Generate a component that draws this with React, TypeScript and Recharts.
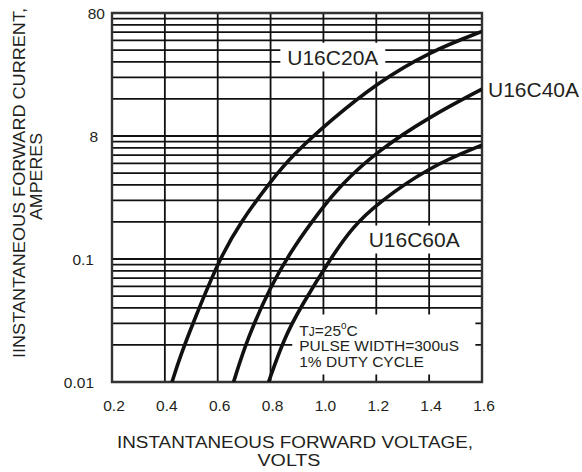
import React from 'react';
import { LineChart, Line, XAxis, YAxis, CartesianGrid, ReferenceArea, ReferenceDot, Label } from 'recharts';

const xTicks = [0.2, 0.4, 0.6, 0.8, 1.0, 1.2, 1.4, 1.6];
const xTickLabels = ['0.2', '0.4', '0.6', '0.8', '1.0', '1.2', '1.4', '1.6'];
const yTicks = [0.01, 0.1, 1, 10];
const yTickLabels = ['0.01', '0.1', '8', '80'];
const yTickNudge = [-2, -2, 2, 9];
const gridDecades = [0.01, 0.1, 1];
const gridSteps = [1, 2, 3, 4, 5, 6, 7, 8, 9];
const gridTop = 10;

const u16c20aVolts = [0.427, 0.4584, 0.5087, 0.6071, 0.6854, 0.7989, 0.8871, 1.0259, 1.2027, 1.4043, 1.6];
const u16c20aAmps = [0.01, 0.01623, 0.03107, 0.1009, 0.1979, 0.4263, 0.7129, 1.334, 2.701, 4.877, 7.087];
const u16c40aVolts = [0.66, 0.7108, 0.7989, 0.8871, 0.988, 1.0637, 1.2027, 1.4043, 1.6];
const u16c40aAmps = [0.01, 0.02218, 0.05977, 0.1252, 0.2477, 0.3955, 0.751, 1.4454, 2.404];
const u16c60aVolts = [0.7925, 0.8493, 0.9125, 1.0324, 1.1092, 1.2027, 1.4043, 1.6];
const u16c60aAmps = [0.01, 0.02218, 0.04036, 0.1054, 0.1803, 0.2824, 0.5674, 0.8434];

const seriesNames = ['U16C20A', 'U16C40A', 'U16C60A'];
const noteLines = ['PULSE WIDTH=300uS', '1% DUTY CYCLE'];
const xTitle = ['INSTANTANEOUS FORWARD VOLTAGE,', 'VOLTS'];
const yTitle = ['IINSTANTANEOUS FORWARD CURRENT,', 'AMPERES'];

const toPoints = (v: number[], a: number[]) => v.map((x, k) => ({ v: x, i: a[k] }));
const gridValues = [...gridDecades.flatMap((d) => gridSteps.map((s) => +(d * s).toPrecision(3))), gridTop];

const FONT = '"Liberation Sans", Arial, Helvetica, sans-serif';
const INK = '#231f20';
const LINE = '#111111';

const findIdx = (vals: number[], v: number) => vals.findIndex((t) => Math.abs(t - v) < 1e-6 * Math.max(1, Math.abs(t)));
const lookup = (vals: number[], labels: string[]) => (v: number) => {
  const k = findIdx(vals, v);
  return k >= 0 ? labels[k] : '';
};

const YTick = (props: any) => {
  const { x, y, payload } = props;
  const k = findIdx(yTicks, payload.value);
  if (k < 0) return null;
  return (
    <text x={x + yTickNudge[k]} y={y} dy="0.355em" textAnchor="end" fontSize={15.5} fill={INK} fontFamily={FONT}>
      {yTickLabels[k]}
    </text>
  );
};

const NoteContent = (props: any) => {
  const vb = props.viewBox || { x: 0, y: 0 };
  const x = vb.x + 7;
  const y = vb.y;
  return (
    <g fontFamily={FONT} fill={INK} fontSize={15.5}>
      <text x={x} y={y + 21.7}>
        T<tspan fontSize={12}>J</tspan>=25<tspan fontSize={10} dy={-7}>o</tspan><tspan dy={7}>C</tspan>
      </text>
      <text x={x} y={y + 36.7}>{noteLines[0]}</text>
      <text x={x} y={y + 52.7}>{noteLines[1]}</text>
    </g>
  );
};

export default function App() {
  return (
    <div style={{ position: 'absolute', left: 0, top: 0, width: 582, height: 472, background: '#fff' }}>
      <LineChart width={582} height={472} margin={{ top: 13, right: 100, bottom: 60, left: 52 }}>
        <CartesianGrid yAxisId="grid" stroke={LINE} strokeWidth={1.8} />
        <XAxis
          dataKey="v"
          type="number"
          domain={[0.2, 1.6]}
          ticks={xTicks}
          interval={0}
          allowDataOverflow
          height={30}
          axisLine={false}
          tickLine={false}
          tickSize={0}
          tickMargin={18}
          tickFormatter={lookup(xTicks, xTickLabels)}
          tick={{ fontSize: 15.5, fill: INK, fontFamily: FONT, dx: 2 }}
        />
        <YAxis
          type="number"
          scale="log"
          domain={[0.01, 10]}
          ticks={yTicks}
          interval={0}
          allowDataOverflow
          width={60}
          axisLine={false}
          tickLine={false}
          tickSize={0}
          tickMargin={16}
          tick={<YTick />}
        />
        <YAxis yAxisId="grid" hide type="number" scale="log" domain={[0.01, 10]} ticks={gridValues} interval={0} allowDataOverflow />
        <ReferenceArea x1={0.837} x2={1.234} y1={3.34} y2={5.74} fill="#ffffff" fillOpacity={1} stroke="none">
          <Label value={seriesNames[0]} position="center" fontSize={21} fill={INK} fontFamily={FONT} />
        </ReferenceArea>
        <ReferenceArea x1={1.139} x2={1.548} y1={0.111} y2={0.187} fill="#ffffff" fillOpacity={1} stroke="none">
          <Label value={seriesNames[2]} position="center" fontSize={21} fill={INK} fontFamily={FONT} />
        </ReferenceArea>
        <ReferenceArea x1={0.882} x2={1.575} y1={0.01153} y2={0.0354} fill="#ffffff" fillOpacity={1} stroke="none">
          <Label content={NoteContent} />
        </ReferenceArea>
        <ReferenceArea x1={0.2} x2={1.6} y1={0.01} y2={10} fill="none" stroke="#333333" strokeWidth={2.4} />
        <Line data={toPoints(u16c20aVolts, u16c20aAmps)} dataKey="i" type="basis" stroke={LINE} strokeWidth={3.6} dot={false} isAnimationActive={false} />
        <Line data={toPoints(u16c40aVolts, u16c40aAmps)} dataKey="i" type="basis" stroke={LINE} strokeWidth={3.6} dot={false} isAnimationActive={false} />
        <Line data={toPoints(u16c60aVolts, u16c60aAmps)} dataKey="i" type="basis" stroke={LINE} strokeWidth={3.6} dot={false} isAnimationActive={false} />
        <ReferenceDot x={1.6} y={2.404} r={0} fill="none" stroke="none">
          <Label value={seriesNames[1]} position="right" offset={6} fontSize={21} fill={INK} fontFamily={FONT} />
        </ReferenceDot>
      </LineChart>
      <svg width={582} height={472} style={{ position: 'absolute', left: 0, top: 0, pointerEvents: 'none' }}>
        <g transform="translate(0,183) rotate(-90)" fontFamily={FONT} fill={INK} fontSize={16.3} textAnchor="middle">
          <text x={0} y={24.5} textLength={350} lengthAdjust="spacingAndGlyphs">{yTitle[0]}</text>
          <text x={6.5} y={41.5} textLength={87} lengthAdjust="spacingAndGlyphs">{yTitle[1]}</text>
        </g>
        <g fontFamily={FONT} fill={INK} fontSize={16.3} textAnchor="middle">
          <text x={295} y={448.3} textLength={356} lengthAdjust="spacingAndGlyphs">{xTitle[0]}</text>
          <text x={289} y={466} textLength={63} lengthAdjust="spacingAndGlyphs">{xTitle[1]}</text>
        </g>
      </svg>
    </div>
  );
}
